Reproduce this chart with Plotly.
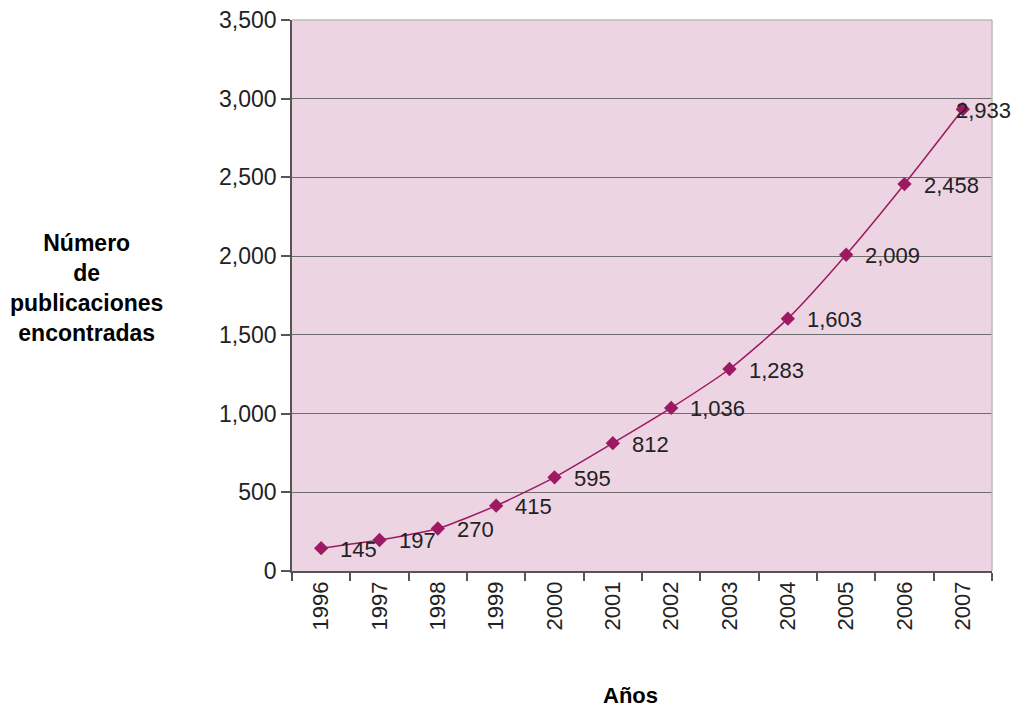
import plotly.graph_objects as go

years = ["1996", "1997", "1998", "1999", "2000", "2001", "2002", "2003", "2004", "2005", "2006", "2007"]
publications = [145, 197, 270, 415, 595, 812, 1036, 1283, 1603, 2009, 2458, 2933]
label_shift = [17, 17, 17, 17, 17, 17, 17, 17, 17, 17, 17, -9]

y_ticks = [0, 500, 1000, 1500, 2000, 2500, 3000, 3500]

line_color = "#9C1A62"
fig = go.Figure()
fig.add_trace(go.Scatter(
    x=years, y=publications, mode="lines+markers",
    line=dict(color=line_color, width=1.5, shape="spline", smoothing=0.6),
    marker=dict(symbol="diamond", size=11, color=line_color),
    hoverinfo="skip", showlegend=False,
))

annotations = []
for i, (v, s) in enumerate(zip(publications, label_shift)):
    annotations.append(dict(
        x=i, y=v, xref="x", yref="y", text=f"{v:,}", showarrow=False,
        xanchor="left", yanchor="middle", xshift=s, yshift=-1,
        font=dict(family="Liberation Sans, Arial", size=22, color="#222222"),
    ))

annotations.append(dict(
    xref="paper", yref="paper", x=-0.293, y=0.513,
    text="<b>Número<br>de<br>publicaciones<br>encontradas</b>", showarrow=False,
    xanchor="center", yanchor="middle", align="center",
    font=dict(family="Liberation Sans, Arial", size=23, color="#000000"),
))
annotations.append(dict(
    xref="paper", yref="paper", x=0.484, y=-0.226,
    text="<b>Años</b>", showarrow=False, xanchor="center", yanchor="middle",
    font=dict(family="Liberation Sans, Arial", size=22, color="#000000"),
))

fig.update_layout(
    width=1014, height=711,
    margin=dict(l=292, r=22, t=20, b=140),
    paper_bgcolor="white", plot_bgcolor="#EDD4E2",
    font=dict(family="Liberation Sans, Arial", size=22, color="#222222"),
    annotations=annotations,
    shapes=[
        dict(type="line", xref="paper", yref="paper", x0=0, x1=1, y0=1, y1=1,
             line=dict(color="#BBBBBB", width=1.5)),
        dict(type="line", xref="paper", yref="paper", x0=1, x1=1, y0=0, y1=1,
             line=dict(color="#BBBBBB", width=1.5)),
    ],
)
fig.update_yaxes(
    range=[0, 3500], tickvals=y_ticks, tickformat=",", automargin=False,
    showgrid=True, gridcolor="#6E6E6E", gridwidth=1,
    showline=True, linecolor="#555555", linewidth=1.5,
    ticks="outside", ticklen=9, tickcolor="#555555", tickwidth=1.5,
    zeroline=False, tickfont=dict(size=23, color="#222222"),
)
fig.update_xaxes(
    type="category", tickangle=-90, tickson="boundaries", automargin=False,
    showgrid=False, showline=True, linecolor="#555555", linewidth=1.5,
    ticks="outside", ticklen=8, tickcolor="#555555", tickwidth=1.5,
    tickfont=dict(size=22, color="#222222"), range=[-0.5, 11.5],
)

fig.write_html("out.html")
